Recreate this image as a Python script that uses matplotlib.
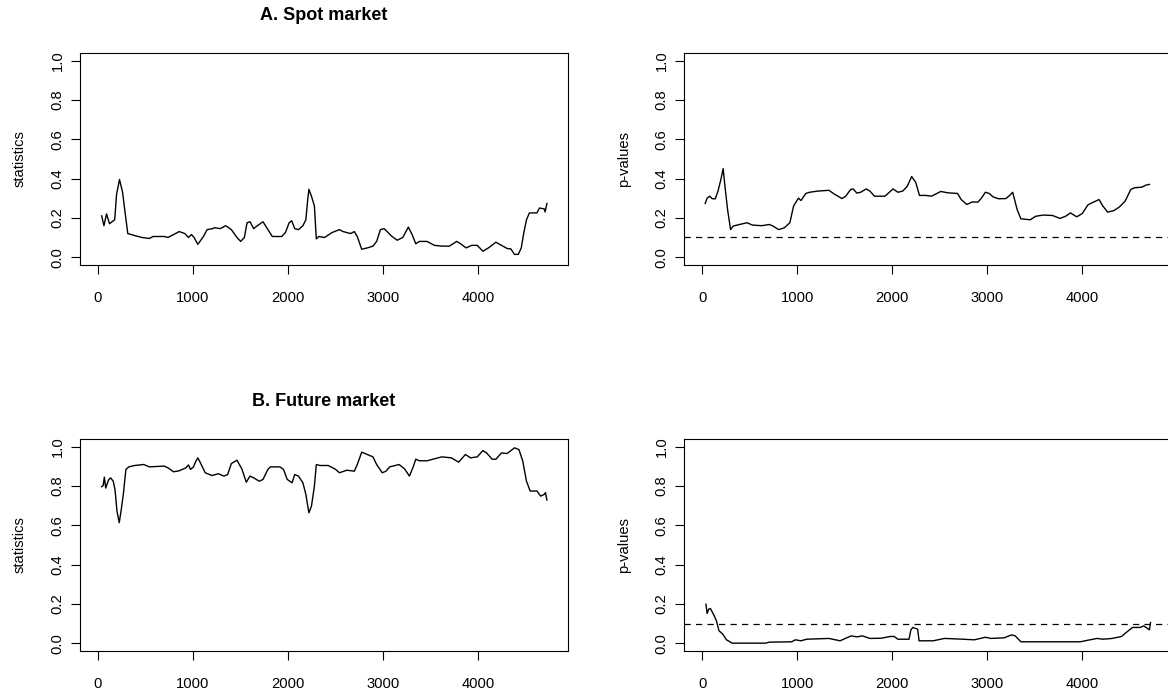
import matplotlib
matplotlib.use("Agg")
import matplotlib.pyplot as plt
from matplotlib.ticker import FixedLocator, FormatStrFormatter

# ── Data ─────────────────────────────────────────────────────────────────
# Panel A, left: rolling statistics for the spot market
SPOT_STAT_X = [39, 63, 90, 122, 149, 176, 196, 227, 259, 286, 314, 384, 463, 541,
               580, 698, 737, 816, 855, 914, 953, 984, 1012, 1051, 1110, 1149,
               1208, 1227, 1286, 1345, 1404, 1463, 1502, 1541, 1569, 1600, 1639,
               1678, 1737, 1776, 1835, 1933, 1973, 2012, 2039, 2071, 2110, 2157,
               2188, 2208, 2220, 2247, 2278, 2298, 2325, 2384, 2463, 2541, 2580,
               2659, 2698, 2729, 2776, 2835, 2894, 2933, 2973, 3012, 3090, 3149,
               3208, 3267, 3306, 3345, 3384, 3463, 3541, 3620, 3698, 3776, 3816,
               3875, 3933, 3992, 4051, 4110, 4188, 4247, 4306, 4345, 4384, 4424,
               4455, 4482, 4510, 4541, 4620, 4647, 4698, 4706, 4725]
SPOT_STAT_Y = [0.21, 0.16, 0.22, 0.17, 0.18, 0.19, 0.32, 0.395, 0.33, 0.225, 0.12,
               0.11, 0.10, 0.095, 0.105, 0.105, 0.10, 0.12, 0.13, 0.12, 0.10,
               0.115, 0.10, 0.065, 0.105, 0.14, 0.145, 0.15, 0.145, 0.16, 0.14,
               0.10, 0.08, 0.10, 0.175, 0.18, 0.145, 0.16, 0.18, 0.15, 0.105,
               0.105, 0.125, 0.175, 0.185, 0.145, 0.14, 0.16, 0.19, 0.295, 0.345,
               0.31, 0.26, 0.093, 0.105, 0.10, 0.125, 0.14, 0.13, 0.12, 0.13,
               0.105, 0.04, 0.047, 0.056, 0.08, 0.14, 0.145, 0.107, 0.086, 0.10,
               0.153, 0.115, 0.068, 0.08, 0.08, 0.06, 0.056, 0.056, 0.08, 0.068,
               0.047, 0.06, 0.06, 0.03, 0.047, 0.076, 0.06, 0.044, 0.042, 0.014,
               0.014, 0.047, 0.124, 0.19, 0.225, 0.225, 0.25, 0.245, 0.23, 0.273]

# Panel A, right: p-values for the spot market
SPOT_P_X = [31, 51, 78, 106, 137, 165, 196, 220, 239, 267, 298, 325, 392, 471,
            529, 627, 706, 745, 804, 863, 922, 961, 1012, 1039, 1090, 1129, 1216,
            1333, 1392, 1471, 1510, 1561, 1588, 1627, 1667, 1725, 1765, 1812,
            1922, 1969, 2008, 2059, 2110, 2157, 2204, 2247, 2286, 2353, 2412,
            2510, 2588, 2686, 2725, 2784, 2843, 2902, 2941, 2980, 3020, 3059,
            3118, 3196, 3235, 3267, 3314, 3353, 3451, 3510, 3588, 3686, 3765,
            3824, 3875, 3941, 4000, 4059, 4118, 4176, 4216, 4267, 4333, 4392,
            4451, 4510, 4549, 4627, 4667, 4706]
SPOT_P_Y = [0.273, 0.30, 0.31, 0.297, 0.297, 0.335, 0.395, 0.45, 0.36, 0.24, 0.14,
            0.158, 0.166, 0.175, 0.163, 0.16, 0.166, 0.158, 0.14, 0.149, 0.175,
            0.26, 0.30, 0.288, 0.324, 0.33, 0.336, 0.34, 0.32, 0.298, 0.31, 0.344,
            0.347, 0.326, 0.33, 0.347, 0.336, 0.31, 0.31, 0.33, 0.347, 0.33,
            0.336, 0.36, 0.41, 0.38, 0.314, 0.314, 0.31, 0.334, 0.327, 0.324,
            0.293, 0.268, 0.281, 0.28, 0.302, 0.33, 0.324, 0.307, 0.297, 0.298,
            0.314, 0.33, 0.242, 0.195, 0.19, 0.208, 0.214, 0.212, 0.197, 0.208,
            0.225, 0.205, 0.222, 0.266, 0.28, 0.293, 0.26, 0.229, 0.237, 0.256,
            0.285, 0.344, 0.353, 0.356, 0.366, 0.37]

# Panel B, left: rolling statistics for the future market
FUT_STAT_X = [39, 55, 67, 82, 110, 133, 161, 180, 200, 224, 243, 267, 294, 325,
              384, 482, 541, 698, 737, 796, 855, 925, 953, 973, 1004, 1031, 1051,
              1075, 1129, 1200, 1267, 1325, 1365, 1404, 1463, 1514, 1561, 1600,
              1639, 1698, 1737, 1788, 1816, 1914, 1953, 1992, 2043, 2071, 2110,
              2157, 2188, 2220, 2247, 2278, 2298, 2337, 2424, 2502, 2541, 2620,
              2698, 2729, 2776, 2835, 2894, 2933, 2992, 3031, 3071, 3169, 3227,
              3278, 3318, 3345, 3384, 3463, 3541, 3620, 3718, 3796, 3867, 3922,
              3992, 4051, 4090, 4149, 4188, 4247, 4306, 4384, 4431, 4471, 4510,
              4549, 4620, 4659, 4698, 4710, 4725]
FUT_STAT_Y = [0.797, 0.803, 0.846, 0.79, 0.83, 0.842, 0.825, 0.78, 0.673, 0.614,
              0.673, 0.758, 0.885, 0.898, 0.905, 0.91, 0.898, 0.902, 0.893, 0.873,
              0.878, 0.893, 0.908, 0.885, 0.897, 0.927, 0.944, 0.922, 0.868,
              0.854, 0.863, 0.851, 0.859, 0.915, 0.932, 0.888, 0.82, 0.851, 0.842,
              0.825, 0.834, 0.885, 0.898, 0.898, 0.885, 0.834, 0.817, 0.859,
              0.851, 0.817, 0.758, 0.664, 0.698, 0.80, 0.91, 0.905, 0.905, 0.885,
              0.868, 0.881, 0.876, 0.91, 0.973, 0.961, 0.949, 0.91, 0.868, 0.876,
              0.898, 0.91, 0.888, 0.851, 0.898, 0.937, 0.929, 0.929, 0.939, 0.949,
              0.944, 0.922, 0.961, 0.944, 0.949, 0.981, 0.969, 0.937, 0.937,
              0.969, 0.966, 0.995, 0.986, 0.927, 0.825, 0.775, 0.775, 0.749,
              0.758, 0.767, 0.729]

# Panel B, right: p-values for the future market
FUT_P_X = [39, 51, 67, 86, 118, 149, 176, 216, 255, 314, 667, 706, 941, 980,
           1039, 1098, 1333, 1451, 1529, 1569, 1627, 1686, 1765, 1882, 1980, 2020,
           2059, 2176, 2196, 2216, 2267, 2282, 2431, 2549, 2745, 2863, 2980, 3039,
           3176, 3255, 3294, 3353, 3980, 4059, 4157, 4216, 4314, 4412, 4471, 4529,
           4608, 4647, 4706, 4718]
FUT_P_Y = [0.198, 0.151, 0.173, 0.176, 0.147, 0.114, 0.063, 0.046, 0.017, 0.0,
           0.0, 0.005, 0.007, 0.017, 0.012, 0.02, 0.024, 0.012, 0.029, 0.037,
           0.032, 0.037, 0.024, 0.025, 0.034, 0.034, 0.02, 0.02, 0.068, 0.08,
           0.071, 0.012, 0.012, 0.024, 0.02, 0.017, 0.03, 0.024, 0.027, 0.042,
           0.037, 0.007, 0.007, 0.015, 0.024, 0.02, 0.024, 0.034, 0.058, 0.08,
           0.08, 0.088, 0.068, 0.105]

P_THRESHOLD = 0.1
TITLES = ["A. Spot market", "B. Future market"]
X_TICKS = [0, 1000, 2000, 3000, 4000]
Y_TICKS = [0.0, 0.2, 0.4, 0.6, 0.8, 1.0]

# ── Style (mimic R base graphics) ─────────────────────────────────────────
plt.rcParams.update({
    "font.family": ["Liberation Sans", "DejaVu Sans"],
    "font.size": 10.6,
    "axes.linewidth": 0.8,
    "xtick.major.size": 6.7,
    "ytick.major.size": 6.7,
    "xtick.major.width": 0.8,
    "ytick.major.width": 0.8,
    "xtick.major.pad": 12.3,
    "ytick.major.pad": 4.5,
})

W_PX, H_PX = 1168, 695
fig = plt.figure(figsize=(W_PX / 100, H_PX / 100), dpi=100)


def box(left, top, right, bottom):
    # pixel box -> figure fraction rect
    return [left / W_PX, 1 - bottom / H_PX, (right - left) / W_PX, (bottom - top) / H_PX]


# right-hand column runs slightly past the figure edge, as in the reference
PANELS = [
    (box(80, 52.7, 568, 265), SPOT_STAT_X, SPOT_STAT_Y, "statistics", TITLES[0], False),
    (box(684.3, 52.7, 1172.3, 265), SPOT_P_X, SPOT_P_Y, "p-values", None, True),
    (box(80, 439, 568, 651), FUT_STAT_X, FUT_STAT_Y, "statistics", TITLES[1], False),
    (box(684.3, 439, 1172.3, 651), FUT_P_X, FUT_P_Y, "p-values", None, True),
]

for rect, xs, ys, ylabel, title, pvals in PANELS:
    ax = fig.add_axes(rect)
    ax.plot(xs, ys, color="black", linewidth=1.0)
    if pvals:
        ax.axhline(P_THRESHOLD, color="black", linewidth=0.9, dashes=(5, 4.2))

    ax.set_xlim(-189, 4947)
    ax.set_ylim(-0.04, 1.04)
    ax.xaxis.set_major_locator(FixedLocator(X_TICKS))
    ax.yaxis.set_major_locator(FixedLocator(Y_TICKS))
    ax.yaxis.set_major_formatter(FormatStrFormatter("%.1f"))
    ax.tick_params(axis="y", labelrotation=90)
    for lab in ax.get_yticklabels():
        lab.set_va("center")

    ax.set_ylabel(ylabel, va="center")
    ax.yaxis.set_label_coords(-0.123, 0.5)
    if title:
        ax.set_title(title, fontsize=13, fontweight="bold", pad=23.5)

fig.savefig("out.png", dpi=100)
plt.close(fig)
